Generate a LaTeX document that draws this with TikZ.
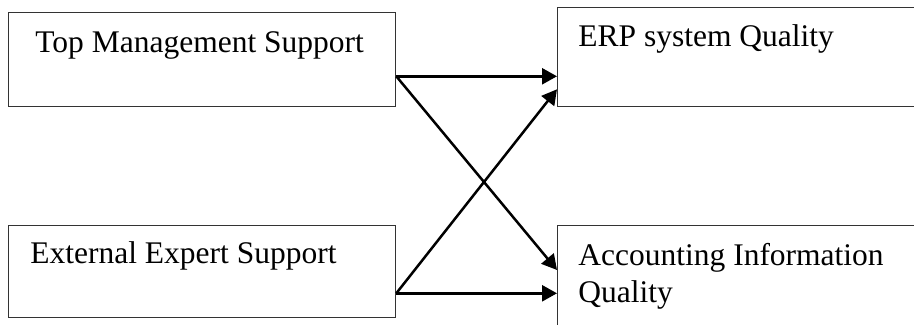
\documentclass[tikz,border=0pt]{standalone}
\usepackage{fontspec}
\setmainfont{Liberation Serif}
\usetikzlibrary{arrows.meta}
\begin{document}
\begin{tikzpicture}[x=0.5pt,y=-0.5pt,
  box/.style={draw=black!80,line width=0.65pt,inner sep=0pt,anchor=north west},
  lbl/.style={inner sep=0pt,anchor=base west,font=\fontsize{15.75pt}{18.35pt}\selectfont,align=left},
  arr/.style={line width=1.25pt,-{Triangle[length=7.5pt,width=8pt]}}]
\useasboundingbox (0,0) rectangle (914,325);
\clip (0,0) rectangle (914,325);
% boxes
\node[box,minimum width=193.5pt,minimum height=47pt] (tms) at (8,12) {};
\node[box,minimum width=200pt,minimum height=49.5pt] (erp) at (557,7) {};
\node[box,minimum width=193.5pt,minimum height=46pt] (ees) at (8,225) {};
\node[box,minimum width=200pt,minimum height=60pt] (aiq) at (557,225) {};
% labels (the two-line label is placed by the baseline of its last line)
\node[lbl] (tmsT) at (35,53) {Top Management Support};
\node[lbl] (erpT) at (578,47) {ERP system Quality};
\node[lbl] (eesT) at (30,264) {External Expert Support};
\node[lbl] (aiqT) at (578,302) {Accounting Information\\Quality};
% connection points on the box sides
\coordinate (tmsOut) at ([yshift=15.5pt]tms.south east);
\coordinate (eesOut) at ([yshift=12.5pt]ees.south east);
\coordinate (erpInA) at (erp.west |- tmsOut);
\coordinate (erpInB) at ([yshift=9pt]erp.south west);
\coordinate (aiqInA) at ([yshift=-22.5pt]aiq.north west);
\coordinate (aiqInB) at (aiq.west |- eesOut);
% arrows
\draw[arr] (tmsOut) -- (erpInA);
\draw[arr] (tmsOut) -- (aiqInA);
\draw[arr] (eesOut) -- (erpInB);
\draw[arr] (eesOut) -- (aiqInB);
\end{tikzpicture}
\end{document}
